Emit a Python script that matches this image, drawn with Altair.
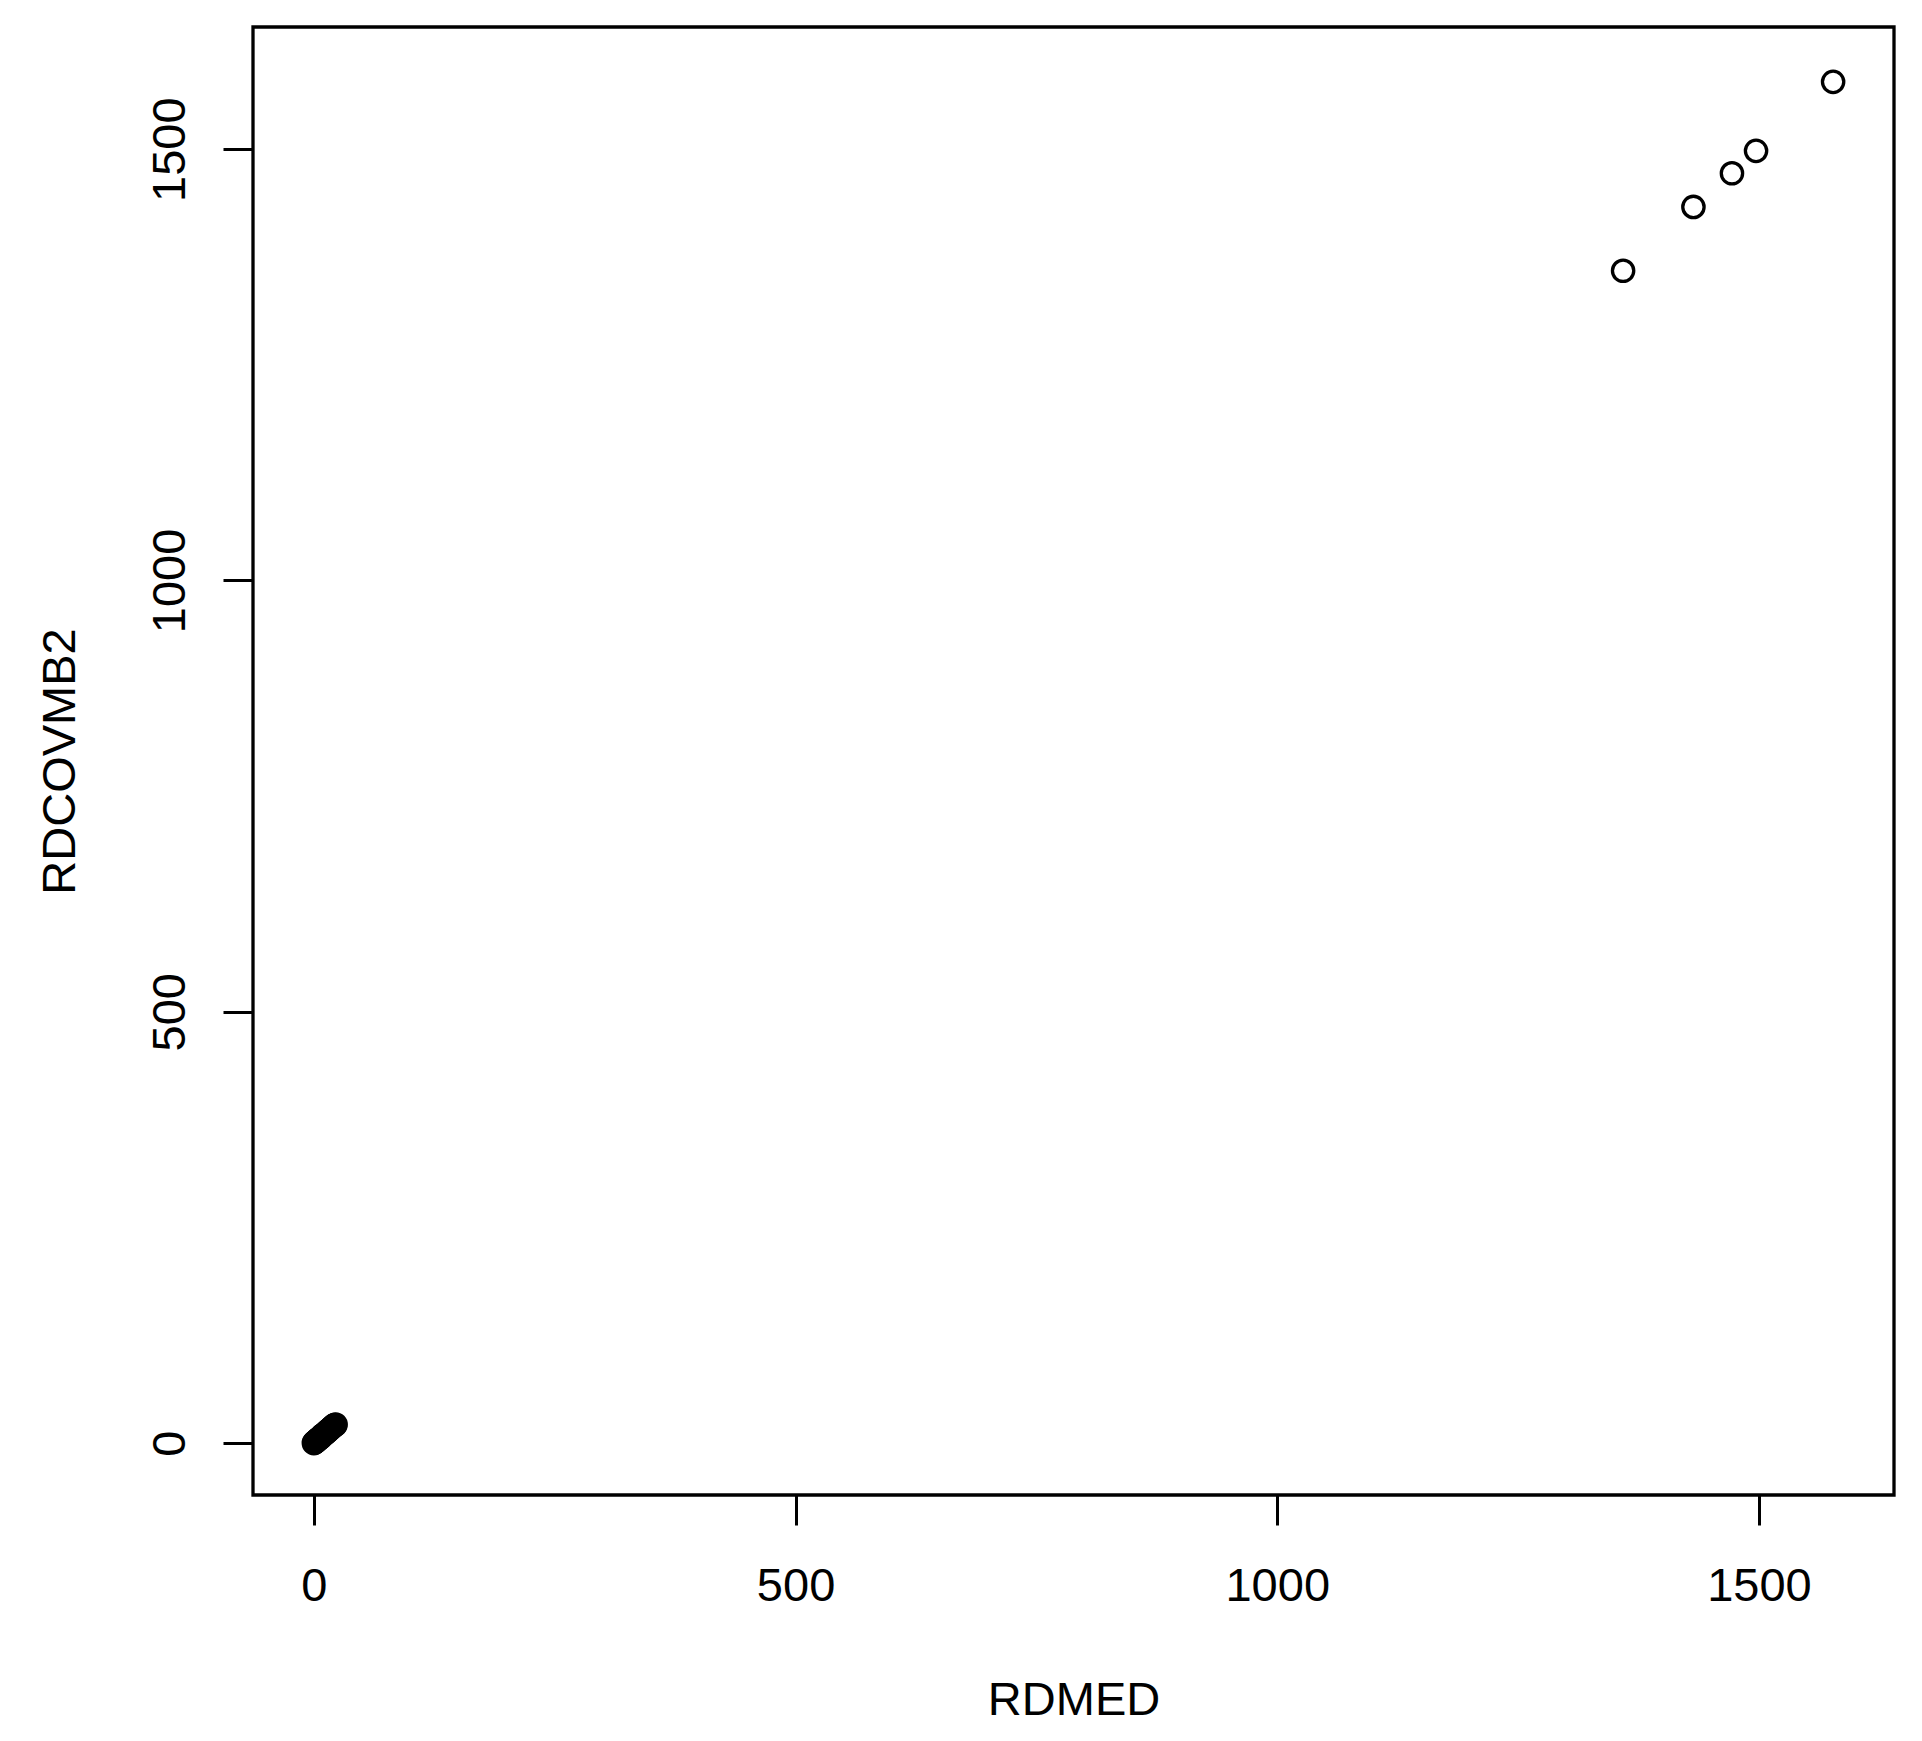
import altair as alt
import pandas as pd

# Data (RDMED vs RDCOVMB2)
rdmed = [0, 0.5, 1, 1.5, 2, 3, 3.5, 4, 5, 6, 7, 7.5, 8, 9, 10, 11, 12, 13, 14, 15,
         16, 17, 18, 19, 20, 21, 22, 22.5,
         1359, 1432, 1472, 1497, 1577]
rdcovmb2 = [0, 0.5, 1, 1.5, 2, 2.5, 3.5, 4, 5, 5.5, 6.5, 7, 8, 9, 9.5, 10.5, 11.5, 12.5, 13.5, 14.5,
            15.5, 16.5, 17.5, 18.5, 19.5, 20.5, 21, 21.5,
            1359, 1433, 1472, 1498, 1578]

x_ticks = [0, 500, 1000, 1500]
y_ticks = [0, 500, 1000, 1500]
x_domain = [-63.2, 1640.2]
y_domain = [-60.2, 1641.6]

df = pd.DataFrame({"RDMED": rdmed, "RDCOVMB2": rdcovmb2})

FONT = "Liberation Sans"
W, H = 1641, 1468

chart = alt.Chart(df).mark_point(
    shape="circle", filled=False, stroke="black", strokeWidth=3.3, size=455, opacity=1
).encode(
    x=alt.X("RDMED:Q",
            scale=alt.Scale(domain=x_domain, nice=False, zero=False),
            axis=alt.Axis(values=x_ticks, format="d", grid=False, domain=False,
                          tickSize=30, tickWidth=3, tickColor="black",
                          labelFont=FONT, labelFontSize=47, labelColor="black",
                          labelBaseline="top", labelAlign="center", labelPadding=38,
                          labelFlush=False, labelOverlap=False,
                          title="RDMED", titleFont=FONT, titleFontSize=47,
                          titleFontWeight="normal", titleColor="black",
                          titleBaseline="alphabetic", titleY=219, titleX=W / 2,
                          titleAlign="center")),
    y=alt.Y("RDCOVMB2:Q",
            scale=alt.Scale(domain=y_domain, nice=False, zero=False),
            axis=alt.Axis(values=y_ticks, format="d", grid=False, domain=False,
                          tickSize=30, tickWidth=3, tickColor="black",
                          labelFont=FONT, labelFontSize=47, labelColor="black",
                          labelAngle=270, labelAlign="center", labelBaseline="alphabetic",
                          labelPadding=39, labelFlush=False, labelOverlap=False,
                          title="RDCOVMB2", titleFont=FONT, titleFontSize=47,
                          titleFontWeight="normal", titleColor="black",
                          titleAngle=270, titleBaseline="alphabetic", titleAlign="center",
                          titleX=-179, titleY=H / 2)),
).properties(
    width=W, height=H,
    background="white",
    autosize=alt.AutoSizeParams(type="none"),
    padding={"left": 245, "top": 19, "right": 20, "bottom": 230},
).configure_view(
    stroke="black", strokeWidth=3.3, fill="white"
)

chart.save("out.html", embed_options={"renderer": "svg", "actions": False})
